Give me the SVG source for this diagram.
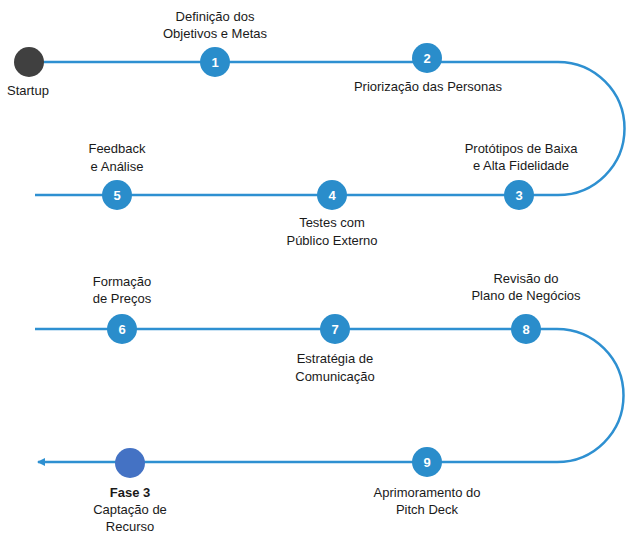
<svg xmlns="http://www.w3.org/2000/svg" width="631" height="543" viewBox="0 0 631 543">
<defs>
<style>
.ln{fill:none;stroke:#2E90D1;stroke-width:2.5}
.n{fill:#2A8DCB}
.num{font-family:"Liberation Sans",Arial,sans-serif;font-size:13px;font-weight:bold;fill:#fff;text-anchor:middle}
.lb{font-family:"Liberation Sans",Arial,sans-serif;font-size:13px;fill:#1a1a1a;text-anchor:middle}
</style>
<marker id="ah" markerWidth="8" markerHeight="8" refX="7" refY="4" orient="auto" markerUnits="userSpaceOnUse">
<path d="M0,0 L8,4 L0,8 Z" fill="#2E90D1"/>
</marker>
</defs>
<g id="connectors">
<path class="ln" d="M29,62 H558 A66.5,66.5 0 0 1 558,195 H35"/>
<path class="ln" d="M35,329 H557 A66.5,66.5 0 0 1 557,462 H38" marker-end="url(#ah)"/>
</g>
<g id="startup">
<circle cx="29" cy="62" r="15" fill="#404040"/>
<text class="lb" x="28" y="95">Startup</text>
</g>
<g id="n1">
<circle class="n" cx="215" cy="62" r="15"/>
<text class="num" x="215" y="67">1</text>
<text class="lb" x="215" y="21">Definição dos</text>
<text class="lb" x="215" y="38">Objetivos e Metas</text>
</g>
<g id="n2">
<circle class="n" cx="427" cy="58" r="15"/>
<text class="num" x="427" y="63">2</text>
<text class="lb" x="428" y="91">Priorização das Personas</text>
</g>
<g id="n3">
<circle class="n" cx="519" cy="195" r="15"/>
<text class="num" x="519" y="200">3</text>
<text class="lb" x="521" y="153">Protótipos de Baixa</text>
<text class="lb" x="521" y="170">e Alta Fidelidade</text>
</g>
<g id="n4">
<circle class="n" cx="332" cy="195" r="15"/>
<text class="num" x="332" y="200">4</text>
<text class="lb" x="332" y="227">Testes com</text>
<text class="lb" x="332" y="245">Público Externo</text>
</g>
<g id="n5">
<circle class="n" cx="117" cy="195" r="15"/>
<text class="num" x="117" y="200">5</text>
<text class="lb" x="117" y="153">Feedback</text>
<text class="lb" x="117" y="171">e Análise</text>
</g>
<g id="n6">
<circle class="n" cx="122" cy="329" r="15"/>
<text class="num" x="122" y="334">6</text>
<text class="lb" x="122" y="286">Formação</text>
<text class="lb" x="122" y="303">de Preços</text>
</g>
<g id="n7">
<circle class="n" cx="335" cy="329" r="15"/>
<text class="num" x="335" y="334">7</text>
<text class="lb" x="335" y="363">Estratégia de</text>
<text class="lb" x="335" y="381">Comunicação</text>
</g>
<g id="n8">
<circle class="n" cx="526" cy="329" r="15"/>
<text class="num" x="526" y="334">8</text>
<text class="lb" x="526" y="283">Revisão do</text>
<text class="lb" x="526" y="300">Plano de Negócios</text>
</g>
<g id="n9">
<circle class="n" cx="427" cy="462" r="15"/>
<text class="num" x="427" y="467">9</text>
<text class="lb" x="427" y="497">Aprimoramento do</text>
<text class="lb" x="427" y="514">Pitch Deck</text>
</g>
<g id="fase3">
<circle cx="130" cy="463" r="15" fill="#4472C4"/>
<text class="lb" x="130" y="497" font-weight="bold">Fase 3</text>
<text class="lb" x="130" y="514">Captação de</text>
<text class="lb" x="130" y="531">Recurso</text>
</g>
</svg>
